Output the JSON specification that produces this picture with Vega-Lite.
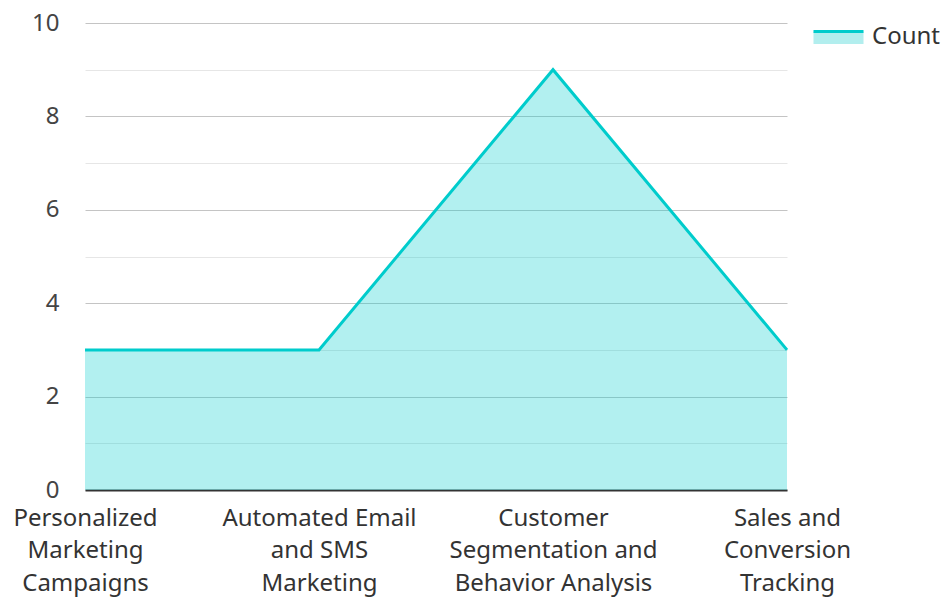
{
  "$schema": "https://vega.github.io/schema/vega-lite/v6.json",
  "width": 702,
  "height": 467,
  "autosize": {"type": "none"},
  "padding": {"left": 85, "top": 23, "right": 158, "bottom": 107},
  "config": {"font": "Noto Sans", "view": {"stroke": null}},
  "data": {
    "values": [
      {"category": "Personalized Marketing Campaigns", "series": "Count", "count": 3},
      {"category": "Automated Email and SMS Marketing", "series": "Count", "count": 3},
      {"category": "Customer Segmentation and Behavior Analysis", "series": "Count", "count": 9},
      {"category": "Sales and Conversion Tracking", "series": "Count", "count": 3}
    ]
  },
  "encoding": {
    "x": {
      "field": "category",
      "type": "nominal",
      "sort": null,
      "title": null,
      "scale": {"type": "point", "padding": 0},
      "axis": {
        "labelAngle": 0,
        "labelFontSize": 24,
        "labelColor": "#333333",
        "labelLineHeight": 32.5,
        "labelPadding": 16,
        "labelBaseline": "top",
        "labelLimit": 0,
        "labelOverlap": false,
        "labelBound": false,
        "labelFlush": false,
        "ticks": false,
        "grid": false,
        "domain": true,
        "domainColor": "#333333",
        "domainWidth": 2,
        "labelExpr": "datum.value == 'Personalized Marketing Campaigns' ? ['Personalized','Marketing','Campaigns'] : datum.value == 'Automated Email and SMS Marketing' ? ['Automated Email','and SMS','Marketing'] : datum.value == 'Customer Segmentation and Behavior Analysis' ? ['Customer','Segmentation and','Behavior Analysis'] : ['Sales and','Conversion','Tracking']"
      }
    },
    "y": {
      "field": "count",
      "type": "quantitative",
      "title": null,
      "scale": {"domain": [0, 10], "nice": false},
      "axis": {
        "values": [0, 1, 2, 3, 4, 5, 6, 7, 8, 9, 10],
        "labelExpr": "datum.value % 2 == 0 ? datum.label : ''",
        "labelFontSize": 24,
        "labelColor": "#444444",
        "labelPadding": 26,
        "ticks": false,
        "domain": false,
        "grid": true,
        "gridColor": {"condition": {"test": "datum.value % 2 == 0", "value": "#c4c4c4"}, "value": "#e6e6e6"},
        "gridWidth": 1
      }
    }
  },
  "layer": [
    {
      "mark": {"type": "area", "color": "#00cccc", "opacity": 0.3}
    },
    {
      "mark": {"type": "line", "strokeWidth": 3},
      "encoding": {
        "color": {
          "field": "series",
          "type": "nominal",
          "scale": {"range": ["#00cccc"]},
          "legend": {
            "title": null,
            "orient": "none",
            "legendX": 727,
            "legendY": -13,
            "padding": 0,
            "labelFontSize": 24,
            "labelColor": "#333333",
            "labelOffset": 7,
            "symbolSize": 2500,
            "encode": {
              "symbols": {
                "update": {
                  "shape": {"value": "M-1,-0.2L1,-0.2L1,0.3L-1,0.3Z"},
                  "fill": {"value": "#b2eeee"},
                  "stroke": {"value": "#00cccc"},
                  "strokeWidth": {"value": 3},
                  "strokeDash": {"value": [50, 200]},
                  "size": {"value": 2500},
                  "opacity": {"value": 1}
                }
              }
            }
          }
        }
      }
    }
  ]
}
